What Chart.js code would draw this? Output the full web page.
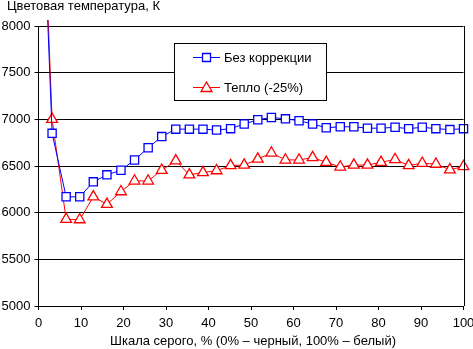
<!DOCTYPE html>
<html>
<head>
<meta charset="utf-8">
<script src="https://cdn.jsdelivr.net/npm/chart.js@4.4.0/dist/chart.umd.min.js"></script>
<style>
  body { margin: 0; background: #fff; }
  #wrap { width: 473px; height: 349px; position: relative; }
</style>
</head>
<body>
<div id="wrap"><canvas id="myChart"></canvas></div>
<script>
// gray level, % (0% black, 100% white)
const grayLevels = [0, 3.2, 6.5, 9.7, 12.9, 16.1, 19.4, 22.6, 25.8, 29.0, 32.3, 35.5, 38.7, 41.9, 45.2, 48.4,
  51.6, 54.8, 58.1, 61.3, 64.5, 67.7, 71.0, 74.2, 77.4, 80.6, 83.9, 87.1, 90.3, 93.5, 96.8, 100];

const noCorrection = [10600, 6850, 6170, 6170, 6330, 6405, 6455, 6565, 6695, 6815, 6895, 6895, 6895, 6885, 6900, 6950,
  6995, 7020, 7005, 6985, 6950, 6910, 6920, 6920, 6905, 6905, 6915, 6900, 6915, 6900, 6890, 6900];

const warm25 = [10700, 7000, 5930, 5925, 6170, 6090, 6225, 6340, 6340, 6455, 6555, 6405, 6430, 6450, 6505, 6510,
  6575, 6640, 6565, 6565, 6590, 6540, 6490, 6510, 6510, 6540, 6570, 6505, 6530, 6520, 6460, 6495];

const seriesNames = ["Без коррекции", "Тепло (-25%)"];
const yTitle = "Цветовая температура, К";
const xTitle = "Шкала серого, % (0% – черный, 100% – белый)";

const FONT = "Arial, 'Liberation Sans', sans-serif";

const toPoints = (vals) => grayLevels.map((x, i) => ({ x: x, y: vals[i] }));

const decor = {
  id: "decor",
  afterDraw(chart) {
    const ctx = chart.ctx;
    const a = chart.chartArea;
    ctx.save();
    // right border of plot
    ctx.strokeStyle = "#000";
    ctx.lineWidth = 1;
    ctx.beginPath();
    ctx.moveTo(Math.round(a.right) + 0.5, a.top);
    ctx.lineTo(Math.round(a.right) + 0.5, a.bottom);
    ctx.stroke();

    // titles
    ctx.fillStyle = "#000";
    ctx.font = "13px " + FONT;
    ctx.textBaseline = "middle";
    ctx.textAlign = "left";
    ctx.fillText(yTitle, 7, 6);
    ctx.textAlign = "center";
    ctx.fillText(xTitle, 253, 341);

    // legend box
    ctx.fillStyle = "#fff";
    ctx.fillRect(174, 43, 153, 58);
    ctx.strokeRect(174.5, 43.5, 152, 57);

    const rows = [
      { y: 57, color: "#0000ff", style: "rect", name: seriesNames[0] },
      { y: 87, color: "#ff0000", style: "triangle", name: seriesNames[1] }
    ];
    rows.forEach((r) => {
      ctx.strokeStyle = r.color;
      ctx.lineWidth = 1;
      ctx.beginPath();
      ctx.moveTo(193, r.y + 0.5);
      ctx.lineTo(220, r.y + 0.5);
      ctx.stroke();
      ctx.fillStyle = "#fff";
      ctx.lineWidth = 1.3;
      ctx.beginPath();
      if (r.style === "rect") {
        ctx.rect(202.5, r.y - 3.5, 8, 8);
      } else {
        ctx.moveTo(206.5, r.y - 5);
        ctx.lineTo(212, r.y + 4.5);
        ctx.lineTo(201, r.y + 4.5);
        ctx.closePath();
      }
      ctx.fill();
      ctx.stroke();
      ctx.fillStyle = "#000";
      ctx.font = "13px " + FONT;
      ctx.textAlign = "left";
      ctx.textBaseline = "middle";
      ctx.fillText(r.name, 224, r.y + 1);
    });
    ctx.restore();
  }
};

const chartRef = document.getElementById("myChart").getContext("2d");
new Chart(chartRef, {
  type: "line",
  data: {
    datasets: [
      {
        label: seriesNames[0],
        data: toPoints(noCorrection),
        borderColor: "#0000ff",
        backgroundColor: "#ffffff",
        borderWidth: 1,
        pointStyle: "rect",
        pointRadius: 5.8,
        pointBorderWidth: 1.3,
        pointBackgroundColor: "#ffffff",
        pointBorderColor: "#0000ff",
        tension: 0,
        clip: { left: 8, top: 6, right: 8, bottom: 8 }
      },
      {
        label: seriesNames[1],
        data: toPoints(warm25),
        borderColor: "#ff0000",
        backgroundColor: "#ffffff",
        borderWidth: 1,
        pointStyle: "triangle",
        pointRadius: 6.2,
        pointBorderWidth: 1.3,
        pointBackgroundColor: "#ffffff",
        pointBorderColor: "#ff0000",
        tension: 0,
        clip: { left: 8, top: 6, right: 8, bottom: 8 }
      }
    ]
  },
  options: {
    responsive: true,
    maintainAspectRatio: false,
    animation: false,
    layout: { padding: { left: 0, top: 26, right: 9.5, bottom: 0 } },
    plugins: {
      legend: { display: false },
      tooltip: { enabled: false }
    },
    scales: {
      x: {
        type: "linear",
        min: 0,
        max: 100,
        afterFit: (s) => { s.height = 43; s.paddingLeft = 0; s.paddingRight = 0; },
        ticks: {
          stepSize: 10,
          color: "#000",
          padding: 6,
          maxRotation: 0,
          font: { family: FONT, size: 13 }
        },
        grid: { drawOnChartArea: false, drawTicks: true, tickLength: 4, color: "#000" },
        border: { color: "#000", width: 1 }
      },
      y: {
        min: 5000,
        max: 8000,
        afterFit: (s) => { s.width = 38.5; },
        ticks: {
          stepSize: 500,
          color: "#000",
          padding: 4,
          font: { family: FONT, size: 13 },
          callback: (v) => String(v)
        },
        grid: { color: "#000", lineWidth: 1, tickLength: 4 },
        border: { color: "#000", width: 1 }
      }
    }
  },
  plugins: [decor]
});
</script>
</body>
</html>
